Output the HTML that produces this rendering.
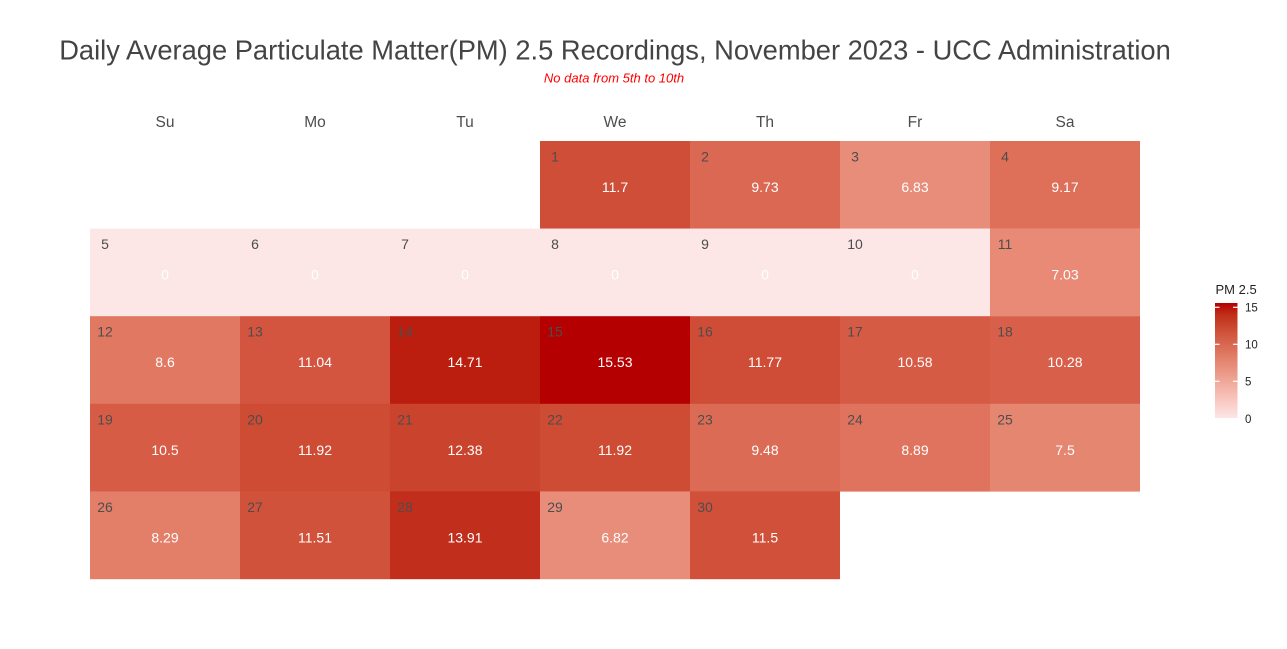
<!DOCTYPE html>
<html><head><meta charset="utf-8"><style>
html,body{margin:0;padding:0;background:#fff;}
svg{display:block;}
text{font-family:"Liberation Sans",Arial,sans-serif;}
</style></head><body>
<svg width="1287" height="649" viewBox="0 0 1287 649" xmlns="http://www.w3.org/2000/svg">
<rect width="1287" height="649" fill="#fff"/>
<text x="615" y="59.5" font-size="27.3" fill="#444" text-anchor="middle">Daily Average Particulate Matter(PM) 2.5 Recordings, November 2023 - UCC Administration</text>
<text x="614" y="82.5" font-size="13" font-style="italic" fill="#ff0000" text-anchor="middle">No data from 5th to 10th</text>
<g font-size="15.5" fill="#4d4d4d" text-anchor="middle">
<text x="165" y="127">Su</text><text x="315" y="127">Mo</text><text x="465" y="127">Tu</text><text x="615" y="127">We</text><text x="765" y="127">Th</text><text x="915" y="127">Fr</text><text x="1065" y="127">Sa</text>
</g>
<g id="cells">
<rect x="540" y="141" width="150" height="87.8" fill="#cf4e37"/>
<rect x="690" y="141" width="150" height="87.8" fill="#db6852"/>
<rect x="840" y="141" width="150" height="87.8" fill="#e88d7a"/>
<rect x="990" y="141" width="150" height="87.8" fill="#de6f59"/>
<rect x="90" y="228.6" width="900" height="87.8" fill="#fce6e6"/>
<rect x="990" y="228.6" width="150" height="87.8" fill="#e88a76"/>
<rect x="90" y="316.2" width="150" height="87.8" fill="#e17862"/>
<rect x="240" y="316.2" width="150" height="87.8" fill="#d3553f"/>
<rect x="390" y="316.2" width="150" height="87.8" fill="#bb1e0f"/>
<rect x="540" y="316.2" width="150" height="87.8" fill="#b40000"/>
<rect x="690" y="316.2" width="150" height="87.8" fill="#cf4d36"/>
<rect x="840" y="316.2" width="150" height="87.8" fill="#d65b45"/>
<rect x="990" y="316.2" width="150" height="87.8" fill="#d8604a"/>
<rect x="90" y="403.8" width="150" height="87.8" fill="#d75c46"/>
<rect x="240" y="403.8" width="150" height="87.8" fill="#ce4b34"/>
<rect x="390" y="403.8" width="150" height="87.8" fill="#ca432c"/>
<rect x="540" y="403.8" width="150" height="87.8" fill="#ce4b34"/>
<rect x="690" y="403.8" width="150" height="87.8" fill="#dc6b55"/>
<rect x="840" y="403.8" width="150" height="87.8" fill="#df735d"/>
<rect x="990" y="403.8" width="150" height="87.8" fill="#e58671"/>
<rect x="90" y="491.4" width="150" height="87.8" fill="#e37f68"/>
<rect x="240" y="491.4" width="150" height="87.8" fill="#d0523a"/>
<rect x="390" y="491.4" width="150" height="87.8" fill="#c12e1c"/>
<rect x="540" y="491.4" width="150" height="87.8" fill="#e88d7a"/>
<rect x="690" y="491.4" width="150" height="87.8" fill="#d0503a"/>
</g>
<g font-size="14" fill="#4d4d4d" text-anchor="middle">
<text x="555" y="161.5">1</text><text x="705" y="161.5">2</text><text x="855" y="161.5">3</text><text x="1005" y="161.5">4</text>
<text x="105" y="249">5</text><text x="255" y="249">6</text><text x="405" y="249">7</text><text x="555" y="249">8</text><text x="705" y="249">9</text><text x="855" y="249">10</text><text x="1005" y="249">11</text>
<text x="105" y="336.7">12</text><text x="255" y="336.7">13</text><text x="405" y="336.7">14</text><text x="555" y="336.7">15</text><text x="705" y="336.7">16</text><text x="855" y="336.7">17</text><text x="1005" y="336.7">18</text>
<text x="105" y="424.3">19</text><text x="255" y="424.3">20</text><text x="405" y="424.3">21</text><text x="555" y="424.3">22</text><text x="705" y="424.3">23</text><text x="855" y="424.3">24</text><text x="1005" y="424.3">25</text>
<text x="105" y="511.9">26</text><text x="255" y="511.9">27</text><text x="405" y="511.9">28</text><text x="555" y="511.9">29</text><text x="705" y="511.9">30</text>
</g>
<g font-size="14" fill="#ffffff" text-anchor="middle">
<text x="615" y="192">11.7</text><text x="765" y="192">9.73</text><text x="915" y="192">6.83</text><text x="1065" y="192">9.17</text>
<text x="165" y="279.6">0</text><text x="315" y="279.6">0</text><text x="465" y="279.6">0</text><text x="615" y="279.6">0</text><text x="765" y="279.6">0</text><text x="915" y="279.6">0</text><text x="1065" y="279.6">7.03</text>
<text x="165" y="367.2">8.6</text><text x="315" y="367.2">11.04</text><text x="465" y="367.2">14.71</text><text x="615" y="367.2">15.53</text><text x="765" y="367.2">11.77</text><text x="915" y="367.2">10.58</text><text x="1065" y="367.2">10.28</text>
<text x="165" y="454.8">10.5</text><text x="315" y="454.8">11.92</text><text x="465" y="454.8">12.38</text><text x="615" y="454.8">11.92</text><text x="765" y="454.8">9.48</text><text x="915" y="454.8">8.89</text><text x="1065" y="454.8">7.5</text>
<text x="165" y="542.4">8.29</text><text x="315" y="542.4">11.51</text><text x="465" y="542.4">13.91</text><text x="615" y="542.4">6.82</text><text x="765" y="542.4">11.5</text>
</g>
<defs>
<linearGradient id="lg" x1="0" y1="1" x2="0" y2="0">
<stop offset="0" stop-color="#fce6e6"/>
<stop offset="0.25" stop-color="#f4b5a9"/>
<stop offset="0.5" stop-color="#e4846f"/>
<stop offset="0.753" stop-color="#ce5138"/>
<stop offset="0.896" stop-color="#c02f19"/>
<stop offset="1" stop-color="#b40000"/>
</linearGradient>
</defs>
<text x="1215.5" y="294" font-size="13" fill="#222">PM 2.5</text>
<rect x="1215" y="303" width="22.5" height="115" fill="url(#lg)"/>
<g stroke="#fff" stroke-width="1.2">
<line x1="1215" y1="307.3" x2="1219.5" y2="307.3"/><line x1="1233" y1="307.3" x2="1237.5" y2="307.3"/>
<line x1="1215" y1="344.3" x2="1219.5" y2="344.3"/><line x1="1233" y1="344.3" x2="1237.5" y2="344.3"/>
<line x1="1215" y1="381.3" x2="1219.5" y2="381.3"/><line x1="1233" y1="381.3" x2="1237.5" y2="381.3"/>
</g>
<g font-size="11.5" fill="#222">
<text x="1245" y="311.5">15</text>
<text x="1245" y="348.5">10</text>
<text x="1245" y="385.5">5</text>
<text x="1245" y="423.2">0</text>
</g>
</svg>
</body></html>
